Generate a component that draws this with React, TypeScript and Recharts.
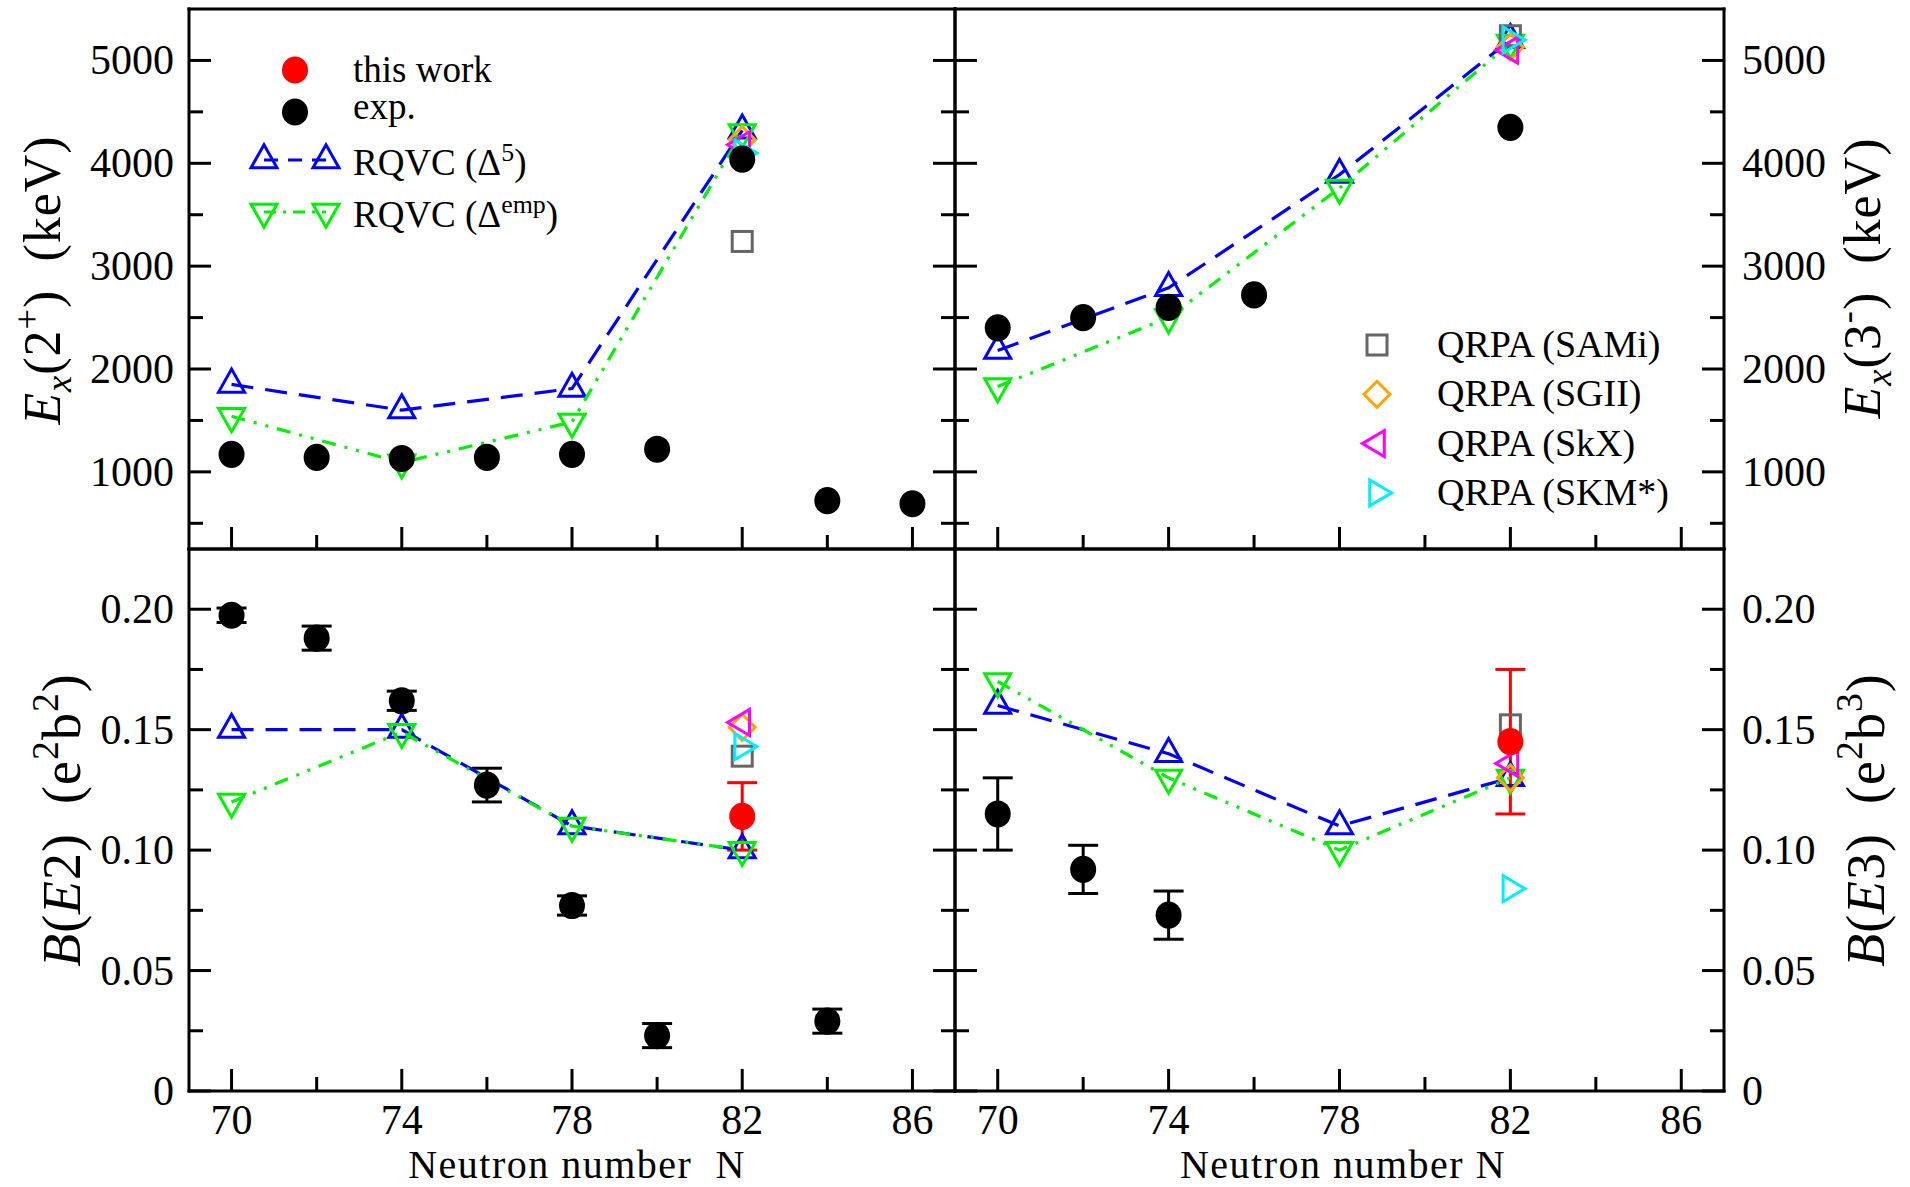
import React from "react";
import { ComposedChart, Scatter, XAxis, YAxis, ErrorBar } from "recharts";

const FONT = '"Liberation Serif", "Times New Roman", serif';
const BLUE = "#0000ff";
const GREEN = "#00f000";
const RED = "#ff0000";
const GRAY = "#666666";
const ORANGE = "#ffa500";
const MAGENTA = "#ff00ff";
const CYAN = "#00eeff";

// neutron numbers
const N_CALC = [70, 74, 78, 82];
const N_QRPA = 82;
const QRPA_NAMES = ["SAMi", "SGII", "SkX", "SKM*"];

// Ex(2+) in keV
const N_EX2_EXP = [70, 72, 74, 76, 78, 80, 82, 84, 86];
const EX2_EXP = [1170, 1140, 1130, 1140, 1170, 1220, 4040, 720, 690];
const EX2_D5 = [1850, 1600, 1810, 4320];
const EX2_EMP = [1540, 1090, 1485, 4300];
const EX2_QRPA = [3240, 4230, 4180, 4100];

// Ex(3-) in keV
const N_EX3_EXP = [70, 72, 74, 76, 82];
const EX3_EXP = [2400, 2500, 2600, 2720, 4350];
const EX3_D5 = [2180, 2790, 3890, 5200];
const EX3_EMP = [1830, 2500, 3760, 5170];
const EX3_QRPA = [5240, 5130, 5100, 5200];

// B(E2) in e2b2
const N_BE2_EXP = [70, 72, 74, 76, 78, 80, 84];
const BE2_EXP = [0.1975, 0.188, 0.162, 0.127, 0.077, 0.023, 0.029];
const BE2_EXP_ERR = [0.003, 0.005, 0.004, 0.007, 0.004, 0.005, 0.005];
const BE2_THIS = [0.114];
const BE2_THIS_ERR = [0.014];
const BE2_D5 = [0.15, 0.15, 0.11, 0.1];
const BE2_EMP = [0.12, 0.149, 0.11, 0.1];
const BE2_QRPA = [0.139, 0.151, 0.153, 0.143];

// B(E3) in e2b3
const N_BE3_EXP = [70, 72, 74];
const BE3_EXP = [0.115, 0.092, 0.073];
const BE3_EXP_ERR = [0.015, 0.01, 0.01];
const BE3_THIS = [0.145];
const BE3_THIS_ERR = [0.03];
const BE3_D5 = [0.16, 0.14, 0.11, 0.13];
const BE3_EMP = [0.17, 0.13, 0.1, 0.13];
const BE3_QRPA = [0.152, 0.13, 0.136, 0.084];

// ticks
const X_TICKS = [70, 72, 74, 76, 78, 80, 82, 84, 86];
const EX_TICKS = [500, 1000, 1500, 2000, 2500, 3000, 3500, 4000, 4500, 5000];
const B_TICKS = [0, 0.025, 0.05, 0.075, 0.1, 0.125, 0.15, 0.175, 0.2];

const pts = (ns: number[], vs: number[], es?: number[]) =>
  ns.map((n, i) => ({ n, v: vs[i], e: es ? es[i] : 0 }));

function Mark({ kind, cx, cy, color }: { kind: string; cx: number; cy: number; color: string }) {
  const sw = 3;
  if (kind === "dot") return <ellipse cx={cx} cy={cy} rx={13} ry={13.6} fill={color} />;
  if (kind === "square")
    return <rect x={cx - 10} y={cy - 10} width={20} height={20} fill="none" stroke={color} strokeWidth={sw} />;
  if (kind === "diamond")
    return (
      <polygon
        points={`${cx},${cy - 13} ${cx + 13},${cy} ${cx},${cy + 13} ${cx - 13},${cy}`}
        fill="none" stroke={color} strokeWidth={sw}
      />
    );
  let p = "";
  if (kind === "up") p = `${cx - 13},${cy + 7.7} ${cx + 13},${cy + 7.7} ${cx},${cy - 15.3}`;
  if (kind === "down") p = `${cx - 13},${cy - 7.7} ${cx + 13},${cy - 7.7} ${cx},${cy + 15.3}`;
  if (kind === "left") p = `${cx + 7.3},${cy - 13} ${cx + 7.3},${cy + 13} ${cx - 14.7},${cy}`;
  if (kind === "right") p = `${cx - 7.3},${cy - 13} ${cx - 7.3},${cy + 13} ${cx + 14.7},${cy}`;
  return <polygon points={p} fill="none" stroke={color} strokeWidth={sw} strokeLinejoin="miter" />;
}

const shape = (kind: string, color: string) => (p: any) =>
  <Mark kind={kind} cx={p.cx} cy={p.cy} color={color} />;

const AXIS = { stroke: "#000", strokeWidth: 3, strokeLinecap: "square" as const };

const xTick = (labels: boolean) => (p: any) => {
  const v = p.payload.value;
  const major = v % 4 === 2;
  return (
    <g>
      <line x1={p.x} x2={p.x} y1={p.y} y2={p.y - (major ? 22 : 14)} stroke="#000" strokeWidth={3} />
      {labels && major && (
        <text x={p.x} y={p.y + 43} textAnchor="middle" fontFamily={FONT} fontSize={42} fill="#000">
          {v}
        </text>
      )}
    </g>
  );
};

const yTick = (side: "left" | "right", labels: boolean, isMajor: (v: number) => boolean, fmt: (v: number) => string) => (p: any) => {
  const v = p.payload.value;
  const major = isMajor(v);
  const dir = side === "left" ? 1 : -1;
  return (
    <g>
      <line x1={p.x} x2={p.x + dir * (major ? 22 : 14)} y1={p.y} y2={p.y} stroke="#000" strokeWidth={3} />
      {labels && major && (
        <text
          x={side === "left" ? p.x - 15 : p.x + 18}
          y={p.y + 14}
          textAnchor={side === "left" ? "end" : "start"}
          fontFamily={FONT}
          fontSize={42}
          fill="#000"
        >
          {fmt(v)}
        </text>
      )}
    </g>
  );
};

const exMajor = (v: number) => v % 1000 === 0;
const bMajor = (v: number) => Math.abs(v / 0.05 - Math.round(v / 0.05)) < 1e-6;
const exFmt = (v: number) => String(v);
const bFmt = (v: number) => (v === 0 ? "0" : v.toFixed(2));

const PAD = 120;

function Panel(props: {
  left: number; top: number; w: number; h: number;
  domain: [number, number]; ticks: number[];
  isMajor: (v: number) => boolean; fmt: (v: number) => string;
  labelSide: "left" | "right"; xLabels: boolean; children: React.ReactNode;
}) {
  const { left, top, w, h, domain, ticks, isMajor, fmt, labelSide, xLabels, children } = props;
  const m = PAD - 1;
  return (
    <div style={{ position: "absolute", left: left - PAD, top: top - PAD }}>
      <ComposedChart width={w + 2 * PAD} height={h + 2 * PAD} margin={{ top: m, right: m, bottom: m, left: m }}>
        <XAxis
          dataKey="n" type="number" domain={[69, 87]} allowDataOverflow ticks={X_TICKS} interval={0}
          height={1} tickSize={0} tickMargin={0} tickLine={false} axisLine={AXIS} tick={xTick(xLabels)}
        />
        <XAxis
          xAxisId="top" orientation="top" type="number" domain={[69, 87]} allowDataOverflow
          height={1} tick={false} tickLine={false} axisLine={AXIS}
        />
        <YAxis
          dataKey="v" type="number" domain={domain} allowDataOverflow ticks={ticks} interval={0}
          width={1} tickSize={0} tickMargin={0} tickLine={false} axisLine={AXIS}
          tick={yTick("left", labelSide === "left", isMajor, fmt)}
        />
        <YAxis
          yAxisId="r" orientation="right" type="number" domain={domain} allowDataOverflow ticks={ticks} interval={0}
          width={1} tickSize={0} tickMargin={0} tickLine={false} axisLine={AXIS}
          tick={yTick("right", labelSide === "right", isMajor, fmt)}
        />
        {children}
      </ComposedChart>
    </div>
  );
}

const BLUE_LINE = { stroke: BLUE, strokeWidth: 3.2, strokeDasharray: "22 12" };
const GREEN_LINE = { stroke: GREEN, strokeWidth: 3.2, strokeDasharray: "14 9 3 9 3 9" };
const QRPA_KINDS = ["square", "diamond", "left", "right"];
const QRPA_COLORS = [GRAY, ORANGE, MAGENTA, CYAN];

function calcSeries(d5: number[], emp: number[]) {
  return [
    <Scatter key="d5" data={pts(N_CALC, d5)} fill="none" line={BLUE_LINE} lineType="joint"
      shape={shape("up", BLUE)} isAnimationActive={false} />,
    <Scatter key="emp" data={pts(N_CALC, emp)} fill="none" line={GREEN_LINE} lineType="joint"
      shape={shape("down", GREEN)} isAnimationActive={false} />,
  ];
}

function qrpaSeries(vals: number[]) {
  return QRPA_NAMES.map((name, i) => (
    <Scatter key={name} data={[{ n: N_QRPA, v: vals[i], e: 0 }]} fill="none"
      shape={shape(QRPA_KINDS[i], QRPA_COLORS[i])} isAnimationActive={false} />
  ));
}

function Title({ x, y, size, children }: { x: number; y: number; size: number; children: React.ReactNode }) {
  return (
    <text transform={`translate(${x},${y}) rotate(-90)`} textAnchor="middle" fontFamily={FONT}
      fontSize={size} letterSpacing={1} fill="#000">
      {children}
    </text>
  );
}

function ExTitle({ x, y, state, sign }: { x: number; y: number; state: string; sign: string }) {
  const s = 52;
  return (
    <Title x={x} y={y} size={s}>
      <tspan fontStyle="italic">E</tspan>
      <tspan fontStyle="italic" fontSize={s * 0.7} dy={s * 0.22}>x</tspan>
      <tspan dy={-s * 0.22}>({state}</tspan>
      <tspan fontSize={s * 0.7} dy={-s * 0.4}>{sign}</tspan>
      <tspan dy={s * 0.4}>)</tspan>
      <tspan>{"\u00a0\u00a0(keV)"}</tspan>
    </Title>
  );
}

function BTitle({ x, y, l }: { x: number; y: number; l: string }) {
  const s = 54;
  return (
    <Title x={x} y={y} size={s}>
      <tspan fontStyle="italic">B</tspan>
      <tspan>(</tspan>
      <tspan fontStyle="italic">E</tspan>
      <tspan>{l})</tspan>
      <tspan>{"\u00a0\u00a0(e"}</tspan>
      <tspan fontSize={s * 0.7} dy={-s * 0.4}>2</tspan>
      <tspan dy={s * 0.4}>b</tspan>
      <tspan fontSize={s * 0.7} dy={-s * 0.4}>{l}</tspan>
      <tspan dy={s * 0.4}>)</tspan>
    </Title>
  );
}

const LEG = 37;

function Overlay() {
  return (
    <svg width={1910} height={1187} style={{ position: "absolute", left: 0, top: 0, pointerEvents: "none" }}>
      <g fontFamily={FONT} fontSize={LEG} fill="#000">
        <Mark kind="dot" cx={295} cy={70} color={RED} />
        <text x={353} y={82}>this work</text>
        <Mark kind="dot" cx={295} cy={112} color="#000" />
        <text x={353} y={119}>exp.</text>

        <line x1={264} y1={160} x2={326} y2={160} {...BLUE_LINE} strokeDasharray="14 10" />
        <Mark kind="up" cx={264} cy={160} color={BLUE} />
        <Mark kind="up" cx={326} cy={160} color={BLUE} />
        <text x={353} y={175}>
          RQVC (Δ<tspan fontSize={LEG * 0.7} dy={-14}>5</tspan><tspan dy={14}>)</tspan>
        </text>

        <line x1={264} y1={212} x2={326} y2={212} {...GREEN_LINE} strokeDasharray="12 7 3 7" />
        <Mark kind="down" cx={264} cy={212} color={GREEN} />
        <Mark kind="down" cx={326} cy={212} color={GREEN} />
        <text x={353} y={227}>
          RQVC (Δ<tspan fontSize={LEG * 0.7} dy={-14}>emp</tspan><tspan dy={14}>)</tspan>
        </text>

        {QRPA_NAMES.map((name, i) => (
          <g key={name}>
            <Mark kind={QRPA_KINDS[i]} cx={1377} cy={345 + i * 49.3} color={QRPA_COLORS[i]} />
            <text x={1437} y={357 + i * 49.3} fontSize={38}>QRPA ({name})</text>
          </g>
        ))}
      </g>

      <ExTitle x={60} y={280} state="2" sign="+" />
      <ExTitle x={1880} y={278} state="3" sign="-" />
      <BTitle x={80} y={820} l="2" />
      <BTitle x={1884} y={820} l="3" />

      <text x={577} y={1178} textAnchor="middle" fontFamily={FONT} fontSize={40} letterSpacing={1.5} fill="#000">
        Neutron number{"\u00a0\u00a0"}N
      </text>
      <text x={1343} y={1178} textAnchor="middle" fontFamily={FONT} fontSize={40} letterSpacing={1.5} fill="#000">
        Neutron number N
      </text>
    </svg>
  );
}

export default function App() {
  return (
    <div style={{ position: "absolute", left: 0, top: 0, width: 1910, height: 1187, background: "#fff", overflow: "hidden" }}>
      <Panel left={189} top={9} w={766} h={540} domain={[250, 5500]} ticks={EX_TICKS}
        isMajor={exMajor} fmt={exFmt} labelSide="left" xLabels={false}>
        {calcSeries(EX2_D5, EX2_EMP)}
        {qrpaSeries(EX2_QRPA)}
        <Scatter data={pts(N_EX2_EXP, EX2_EXP)} fill="#000" shape={shape("dot", "#000")} isAnimationActive={false} />
      </Panel>

      <Panel left={955} top={9} w={769} h={540} domain={[250, 5500]} ticks={EX_TICKS}
        isMajor={exMajor} fmt={exFmt} labelSide="right" xLabels={false}>
        {calcSeries(EX3_D5, EX3_EMP)}
        {qrpaSeries(EX3_QRPA)}
        <Scatter data={pts(N_EX3_EXP, EX3_EXP)} fill="#000" shape={shape("dot", "#000")} isAnimationActive={false} />
      </Panel>

      <Panel left={189} top={549} w={766} h={542} domain={[0, 0.225]} ticks={B_TICKS}
        isMajor={bMajor} fmt={bFmt} labelSide="left" xLabels={true}>
        {calcSeries(BE2_D5, BE2_EMP)}
        {qrpaSeries(BE2_QRPA)}
        <Scatter data={pts(N_BE2_EXP, BE2_EXP, BE2_EXP_ERR)} fill="#000" shape={shape("dot", "#000")} isAnimationActive={false}>
          <ErrorBar dataKey="e" direction="y" width={15} stroke="#000" strokeWidth={3} />
        </Scatter>
        <Scatter data={pts([N_QRPA], BE2_THIS, BE2_THIS_ERR)} fill={RED} shape={shape("dot", RED)} isAnimationActive={false}>
          <ErrorBar dataKey="e" direction="y" width={15} stroke={RED} strokeWidth={3} />
        </Scatter>
      </Panel>

      <Panel left={955} top={549} w={769} h={542} domain={[0, 0.225]} ticks={B_TICKS}
        isMajor={bMajor} fmt={bFmt} labelSide="right" xLabels={true}>
        {calcSeries(BE3_D5, BE3_EMP)}
        {qrpaSeries(BE3_QRPA)}
        <Scatter data={pts(N_BE3_EXP, BE3_EXP, BE3_EXP_ERR)} fill="#000" shape={shape("dot", "#000")} isAnimationActive={false}>
          <ErrorBar dataKey="e" direction="y" width={15} stroke="#000" strokeWidth={3} />
        </Scatter>
        <Scatter data={pts([N_QRPA], BE3_THIS, BE3_THIS_ERR)} fill={RED} shape={shape("dot", RED)} isAnimationActive={false}>
          <ErrorBar dataKey="e" direction="y" width={15} stroke={RED} strokeWidth={3} />
        </Scatter>
      </Panel>

      <Overlay />
    </div>
  );
}
